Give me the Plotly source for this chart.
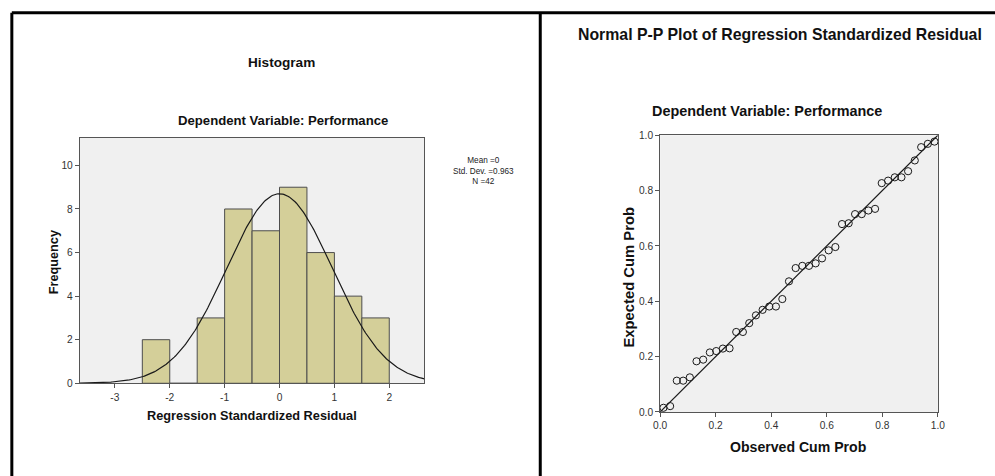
import numpy as np
import plotly.graph_objects as go

W, H = 995, 476

# ---------------- data ----------------
bin_left = [-2.5, -2.0, -1.5, -1.0, -0.5, 0.0, 0.5, 1.0, 1.5]
bin_count = [2, 0, 3, 8, 7, 9, 6, 4, 3]
bin_width = 0.5
resid_mean = 0.0
resid_sd = 0.963
n_obs = 42

hist_xticks = [-3, -2, -1, 0, 1, 2]
hist_xticklabels = ["-3", "-2", "-1", "0", "1", "2"]
hist_yticks = [0, 2, 4, 6, 8, 10]

observed_cum = [0.012, 0.036, 0.060, 0.083, 0.107, 0.131, 0.155, 0.179, 0.202, 0.226,
                0.250, 0.274, 0.298, 0.321, 0.345, 0.369, 0.393, 0.417, 0.440, 0.464,
                0.488, 0.512, 0.536, 0.560, 0.583, 0.607, 0.631, 0.655, 0.679, 0.702,
                0.726, 0.750, 0.774, 0.798, 0.821, 0.845, 0.869, 0.893, 0.917, 0.940,
                0.964, 0.988]
expected_cum = [0.015, 0.021, 0.113, 0.113, 0.125, 0.183, 0.189, 0.215, 0.220, 0.229,
                0.230, 0.289, 0.289, 0.321, 0.349, 0.369, 0.381, 0.381, 0.408, 0.472,
                0.520, 0.528, 0.528, 0.537, 0.555, 0.584, 0.596, 0.679, 0.682, 0.715,
                0.715, 0.728, 0.734, 0.827, 0.836, 0.848, 0.848, 0.870, 0.909, 0.957,
                0.969, 0.977]
pp_ticks = [0.0, 0.2, 0.4, 0.6, 0.8, 1.0]

# mapping from target picture pixels to paper fractions (the capture shows the
# page slightly shrunk and offset, so positions are compensated)
SX, OX = 0.987, 7.16
SY, OY = 0.978, 4.3


def px(x):
    return ((x - OX) / SX) / W


def py(y):
    return 1 - ((y - OY) / SY) / H


FONT = "Liberation Sans, Arial, sans-serif"
BAR_FILL = "#D4CF99"
BAR_LINE = "#4d4d4d"
BG = "#F0F0F0"
AXIS = "#555555"

fig = go.Figure()

# histogram bars
centers = [b + bin_width / 2 for b in bin_left]
fig.add_trace(go.Bar(
    x=centers, y=bin_count, width=[bin_width] * len(centers),
    marker=dict(color=BAR_FILL, line=dict(color=BAR_LINE, width=1)),
    xaxis="x", yaxis="y", showlegend=False))

# normal curve from the displayed mean / sd / N
xr = (-3.64, 2.64)
xs = np.linspace(xr[0], xr[1], 300)
ys = n_obs * bin_width * np.exp(-0.5 * ((xs - resid_mean) / resid_sd) ** 2) / (resid_sd * np.sqrt(2 * np.pi))
fig.add_trace(go.Scatter(x=xs, y=ys, mode="lines", line=dict(color="#1a1a1a", width=1.2),
                         xaxis="x", yaxis="y", showlegend=False))

# P-P reference line
fig.add_trace(go.Scatter(x=[0, 1], y=[0, 1], mode="lines", line=dict(color="#1a1a1a", width=1.2),
                         xaxis="x2", yaxis="y2", showlegend=False))
# P-P points
fig.add_trace(go.Scatter(x=observed_cum, y=expected_cum, mode="markers",
                         marker=dict(symbol="circle-open", size=7.2, color="#1a1a1a", line=dict(width=1)),
                         xaxis="x2", yaxis="y2", showlegend=False, cliponaxis=False))

tickfont = dict(family=FONT, size=10.2, color="#333333")
common = dict(showgrid=False, zeroline=False, showline=True, linecolor=AXIS, linewidth=1,
              mirror=True, ticks="outside", ticklen=4, tickcolor=AXIS, tickfont=tickfont)

fig.update_layout(
    width=W, height=H,
    margin=dict(l=0, r=0, t=0, b=0),
    paper_bgcolor="white", plot_bgcolor=BG,
    hovermode=False,
    xaxis=dict(domain=[px(80), px(425)], range=list(xr), tickvals=hist_xticks,
               ticktext=hist_xticklabels, anchor="y", **common),
    yaxis=dict(domain=[py(383), py(137)], range=[0, 11.28], tickvals=hist_yticks,
               anchor="x", **common),
    xaxis2=dict(domain=[px(661), px(939)], range=[0, 1], tickvals=pp_ticks, tickformat=".1f",
                anchor="y2", **common),
    yaxis2=dict(domain=[py(411.7), py(134.7)], range=[0, 1], tickvals=pp_ticks, tickformat=".1f",
                anchor="x2", **common),
    bargap=0,
)


def ann(text, x, y, size=12, bold=False, angle=0, xanchor="center"):
    t = f"<b>{text}</b>" if bold else text
    fig.add_annotation(text=t, x=px(x), y=py(y), xref="paper", yref="paper",
                       showarrow=False, textangle=angle, xanchor=xanchor, yanchor="middle",
                       font=dict(family=FONT, size=size, color="#111111"))


ann("Histogram", 282, 62, size=13.6, bold=True)
ann("Dependent Variable: Performance", 283, 120, size=13.15, bold=True)
ann("Frequency", 55, 262, size=12.7, bold=True, angle=-90)
ann("Regression Standardized Residual", 252, 415, size=12.75, bold=True)
fig.add_annotation(text="Mean =0<br>Std. Dev. =0.963<br>N =42", x=px(484), y=py(170),
                   xref="paper", yref="paper", showarrow=False, align="center",
                   font=dict(family=FONT, size=8.2, color="#222222"))

ann("Normal P-P Plot of Regression Standardized Residual", 781, 34, size=15.85, bold=True)
ann("Dependent Variable: Performance", 768, 110, size=14.4, bold=True)
ann("Expected Cum Prob", 630, 277, size=14.8, bold=True, angle=-90)
ann("Observed Cum Prob", 800, 447, size=14.1, bold=True)

# outer frame (extends to the page edges)
for x0, y0, x1, y1 in [(12, 12, 1010, 12), (12, 12, 12, 490), (541, 12, 541, 490)]:
    fig.add_shape(type="line", x0=px(x0), y0=py(y0), x1=px(x1), y1=py(y1),
                  xref="paper", yref="paper", line=dict(color="black", width=3))

post = (
    "var de=document.documentElement, b=document.body;"
    "de.style.margin='0';de.style.padding='0';de.style.overflow='hidden';"
    "b.style.margin='0';b.style.padding='0';b.style.overflow='hidden';"
)
fig.write_html("out.html", config={"staticPlot": True, "displayModeBar": False},
               post_script=post)
